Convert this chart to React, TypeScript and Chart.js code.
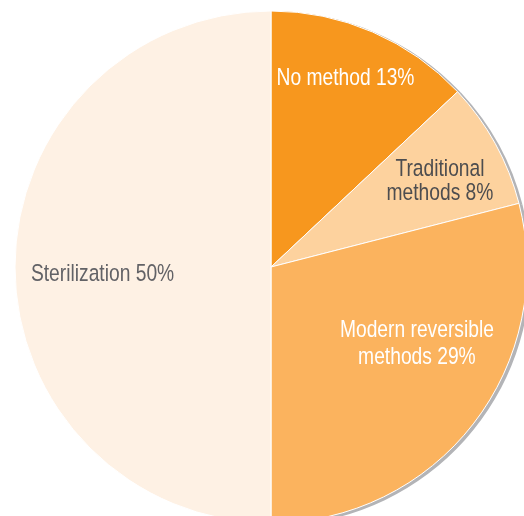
import React, { useEffect, useRef } from "react";
import { Chart, registerables } from "chart.js";

Chart.register(...registerables);

const categories = ["No method", "Traditional methods", "Modern reversible methods", "Sterilization"];
const shares = [13, 8, 29, 50];
const labelLines = [["No method 13%"], ["Traditional", "methods 8%"], ["Modern reversible", "methods 29%"], ["Sterilization 50%"]];

const sliceColors = ["#F7971E", "#FDD29E", "#FBB35E", "#FEF1E4"];
const labelColors = ["#FFFFFF", "#4D4D4F", "#FFFFFF", "#626266"];
const shadowedSlices = [true, true, true, false];
// label block centre as fraction of radius relative to the pie centre
const labelOffsets = [
  [0.291, -0.746],
  [0.66, -0.342],
  [0.57, 0.291],
  [-0.658, 0.02],
];
const labelLineHeights = [24, 24.5, 26.5, 24];

const FONT = '"Liberation Sans", Arial, sans-serif';
const FONT_SIZE = 24.5;
const NARROW = 0.785;
const SIZE = 560;

const shadowPlugin = {
  id: "pieShadow",
  beforeDatasetsDraw(chart: any) {
    const meta = chart.getDatasetMeta(0);
    const ctx = chart.ctx;
    ctx.save();
    ctx.fillStyle = "#B3B4B7";
    meta.data.forEach((arc: any, i: number) => {
      if (!shadowedSlices[i]) return;
      const { x, y, outerRadius, startAngle, endAngle } = arc.getProps(
        ["x", "y", "outerRadius", "startAngle", "endAngle"],
        true
      );
      const sx = x + 2.5;
      const sy = y + 1.5;
      ctx.beginPath();
      ctx.moveTo(sx, sy);
      ctx.arc(sx, sy, outerRadius + 1, startAngle, endAngle);
      ctx.closePath();
      ctx.fill();
    });
    ctx.restore();
  },
};

const labelPlugin = {
  id: "sliceLabels",
  afterDatasetsDraw(chart: any) {
    const meta = chart.getDatasetMeta(0);
    const ctx = chart.ctx;
    meta.data.forEach((arc: any, i: number) => {
      const { x, y, outerRadius } = arc.getProps(["x", "y", "outerRadius"], true);
      const cx = x + labelOffsets[i][0] * outerRadius;
      const cy = y + labelOffsets[i][1] * outerRadius;
      const lines = labelLines[i];
      const lh = labelLineHeights[i];
      lines.forEach((t, j) => {
        const by = cy + (j - (lines.length - 1) / 2) * lh + 8.8;
        ctx.save();
        ctx.font = `${FONT_SIZE}px ${FONT}`;
        ctx.textAlign = "center";
        ctx.textBaseline = "alphabetic";
        ctx.fillStyle = labelColors[i];
        ctx.translate(cx, by);
        ctx.scale(NARROW, 1);
        ctx.fillText(t, 0, 0);
        ctx.restore();
      });
    });
  },
};

export default function App() {
  const ref = useRef<HTMLCanvasElement>(null);
  useEffect(() => {
    if (!ref.current) return;
    const chart = new Chart(ref.current, {
      type: "pie",
      data: {
        labels: categories,
        datasets: [
          {
            data: shares,
            backgroundColor: sliceColors,
            borderColor: "#FFFFFF",
            borderWidth: 1,
            hoverOffset: 0,
            offset: 0,
          },
        ],
      },
      options: {
        responsive: false,
        animation: false,
        events: [],
        layout: { padding: (SIZE - 513) / 2 },
        plugins: { legend: { display: false }, tooltip: { enabled: false } },
      },
      plugins: [shadowPlugin, labelPlugin],
    });
    return () => chart.destroy();
  }, []);
  return (
    <div style={{ position: "fixed", left: 0, top: 0, width: 524, height: 516, overflow: "hidden", background: "#fff" }}>
      <div style={{ position: "absolute", left: 271 - SIZE / 2, top: 267 - SIZE / 2, width: SIZE, height: SIZE }}>
        <canvas ref={ref} width={SIZE} height={SIZE} style={{ display: "block" }} />
      </div>
    </div>
  );
}
